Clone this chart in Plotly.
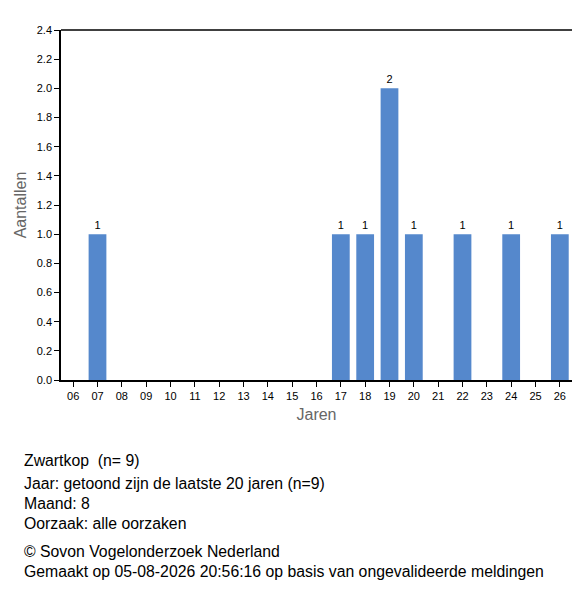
import plotly.graph_objects as go

# jaren (laatste 20 jaar) en aantallen
jaren = ['06', '07', '08', '09', '10', '11', '12', '13', '14', '15', '16',
         '17', '18', '19', '20', '21', '22', '23', '24', '25', '26']
aantallen = [0, 1, 0, 0, 0, 0, 0, 0, 0, 0, 0,
             1, 1, 2, 1, 0, 1, 0, 1, 0, 1]
info_regels = [
    'Zwartkop  (n= 9)',
    'Jaar: getoond zijn de laatste 20 jaren (n=9)',
    'Maand: 8',
    'Oorzaak: alle oorzaken',
    '© Sovon Vogelonderzoek Nederland',
    'Gemaakt op 05-08-2026 20:56:16 op basis van ongevalideerde meldingen',
]
regel_y = [461, 483, 503, 523, 551, 571]

labels = [str(a) if a > 0 else '' for a in aantallen]

fig = go.Figure()
fig.add_trace(go.Bar(
    x=jaren, y=aantallen,
    marker=dict(color='#5588cc', line=dict(width=0)),
    width=0.73,
    text=labels, textposition='outside', cliponaxis=False,
    textfont=dict(size=11, color='black'),
    hoverinfo='x+y',
))

# plot area on the page (pixels): top 30, bottom 380, left 61
# body margin is 8px and the visible width is about 572px, so the figure is 564 wide
top, bottom, left, width = 30, 380, 61, 511
anns = []
for txt, ypix in zip(info_regels, regel_y):
    anns.append(dict(
        text=txt, xref='paper', yref='paper',
        x=(22 - left) / width, y=(bottom - ypix) / (bottom - top),
        xanchor='left', yanchor='middle', showarrow=False,
        font=dict(size=15.8, color='black'),
    ))

fig.update_layout(
    width=564, height=576,
    margin=dict(l=53, r=0, t=22, b=204),
    plot_bgcolor='white', paper_bgcolor='white',
    font=dict(family='Liberation Sans, Arial, sans-serif', color='black'),
    showlegend=False,
    annotations=anns,
    xaxis=dict(
        type='category', range=[-0.5, 20.5],
        showline=True, linecolor='black', linewidth=1.5,
        ticks='outside', ticklen=5, tickcolor='black',
        tickfont=dict(size=11, color='black'),
        showgrid=False, zeroline=False,
        title=dict(text='Jaren', font=dict(size=16, color='#666666'), standoff=8),
    ),
    yaxis=dict(
        range=[0, 2.4], dtick=0.2, tickformat='.1f',
        showline=True, linecolor='black', linewidth=1.5,
        ticks='outside', ticklen=5, tickcolor='black',
        tickfont=dict(size=11, color='black'),
        showgrid=False, zeroline=False,
        title=dict(text='Aantallen', font=dict(size=16, color='#666666'), standoff=6),
    ),
    shapes=[dict(type='line', xref='paper', yref='paper', x0=0, x1=1, y0=1, y1=1,
                 line=dict(color='black', width=1.5))],
)

fig.write_html('out.html')
